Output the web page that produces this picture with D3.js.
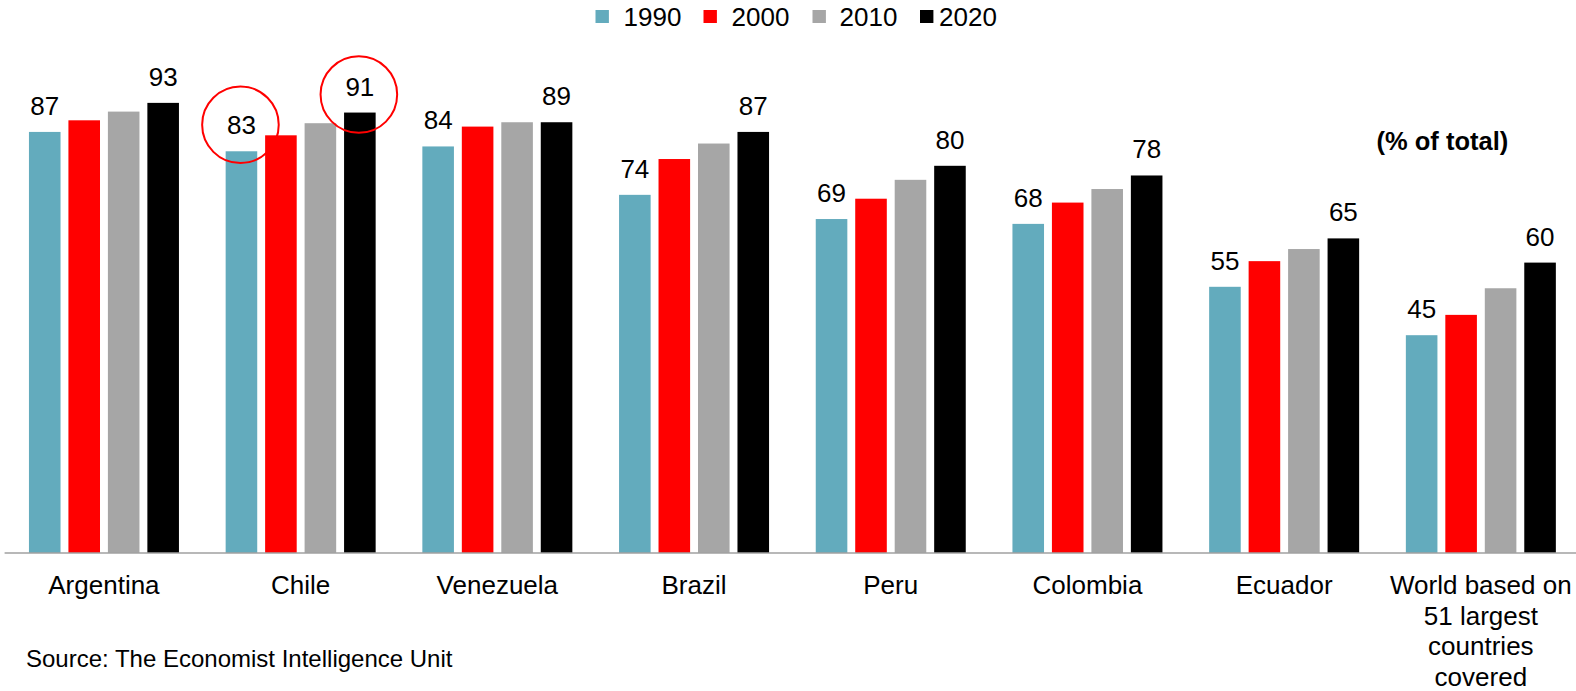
<!DOCTYPE html>
<html>
<head>
<meta charset="utf-8">
<script src="https://cdn.jsdelivr.net/npm/d3@7"></script>
<style>
  html, body { margin: 0; padding: 0; background: #fff; }
  svg { display: block; font-family: "Liberation Sans", Arial, sans-serif; }
</style>
</head>
<body>
<svg id="chart" width="1576" height="691"></svg>
<script>
// ---- data ----
const categories = ["Argentina", "Chile", "Venezuela", "Brazil", "Peru", "Colombia", "Ecuador",
  "World based on\n51 largest\ncountries\ncovered"];
const seriesNames = ["1990", "2000", "2010", "2020"];
const v1990 = [87, 83, 84, 74, 69, 68, 55, 45];
const v2000 = [89.4, 86.3, 88.1, 81.4, 73.2, 72.4, 60.3, 49.2];
const v2010 = [91.2, 88.8, 89.0, 84.6, 77.1, 75.2, 62.8, 54.7];
const v2020 = [93, 91, 89, 87, 80, 78, 65, 60];
const labelledSeries = ["1990", "2020"];
const highlighted = [["Chile", "1990"], ["Chile", "2020"]];
const unitNote = "(% of total)";
const sourceNote = "Source: The Economist Intelligence Unit";

const seriesValues = { "1990": v1990, "2000": v2000, "2010": v2010, "2020": v2020 };
const colors = { "1990": "#63abbd", "2000": "#ff0000", "2010": "#a6a6a6", "2020": "#000000" };

const svg = d3.select("#chart");

const baseY = 553;
const y = d3.scaleLinear().domain([0, 100]).range([baseY, baseY - 484]);
const x0 = d3.scaleBand().domain(categories).range([5.6, 1579.2]).paddingInner(0).paddingOuter(0);
const groupW = 150;
const x1 = d3.scaleBand().domain(seriesNames).range([0, groupW]).paddingInner(0.2).paddingOuter(0);
const groupLeft = c => x0(c) + (x0.bandwidth() - groupW) / 2;

const rows = [];
categories.forEach((c, i) => seriesNames.forEach(s => rows.push({ c, s, v: seriesValues[s][i] })));

// bars
svg.append("g").selectAll("rect").data(rows).join("rect")
  .attr("x", d => groupLeft(d.c) + x1(d.s))
  .attr("y", d => y(d.v))
  .attr("width", x1.bandwidth())
  .attr("height", d => y(0) - y(d.v))
  .attr("fill", d => colors[d.s]);

// axis line
svg.append("line")
  .attr("x1", 4.6).attr("x2", 1576)
  .attr("y1", baseY).attr("y2", baseY)
  .attr("stroke", "#a0a0a0").attr("stroke-width", 1.6);

// value labels
svg.append("g").selectAll("text")
  .data(rows.filter(d => labelledSeries.includes(d.s)))
  .join("text")
  .attr("x", d => groupLeft(d.c) + x1(d.s) + x1.bandwidth() / 2)
  .attr("y", d => y(d.v) - 17)
  .attr("text-anchor", "middle")
  .attr("font-size", 26)
  .attr("fill", "#000")
  .text(d => d.v);

// highlight circles
const circleOffsets = { "1990": -26.5, "2020": -18 };
svg.append("g").selectAll("circle")
  .data(highlighted.map(([c, s]) => ({ c, s, v: seriesValues[s][categories.indexOf(c)] })))
  .join("circle")
  .attr("cx", d => groupLeft(d.c) + x1(d.s) + x1.bandwidth() / 2 - 1)
  .attr("cy", d => y(d.v) + circleOffsets[d.s])
  .attr("r", 38.3)
  .attr("fill", "none")
  .attr("stroke", "#ff0000")
  .attr("stroke-width", 2);

// category labels
const catG = svg.append("g");
categories.forEach(c => {
  const t = catG.append("text")
    .attr("x", x0(c) + x0.bandwidth() / 2)
    .attr("y", 594)
    .attr("text-anchor", "middle")
    .attr("font-size", 26)
    .attr("fill", "#000");
  c.split("\n").forEach((line, i) => {
    t.append("tspan")
      .attr("x", x0(c) + x0.bandwidth() / 2)
      .attr("dy", i === 0 ? 0 : 30.5)
      .text(line);
  });
});

// legend
const legendX = [595.5, 703.5, 812.5, 920];
const legendTextOff = [28, 28, 27, 19];
const lg = svg.append("g");
seriesNames.forEach((s, i) => {
  lg.append("rect")
    .attr("x", legendX[i]).attr("y", 10)
    .attr("width", 13.4).attr("height", 13)
    .attr("fill", colors[s]);
  lg.append("text")
    .attr("x", legendX[i] + legendTextOff[i]).attr("y", 25.5)
    .attr("font-size", 26)
    .attr("fill", "#000")
    .text(s);
});

// unit note
svg.append("text")
  .attr("x", 1376.5).attr("y", 149.5)
  .attr("font-size", 25.5).attr("font-weight", "bold")
  .attr("fill", "#000")
  .text(unitNote);

// source
svg.append("text")
  .attr("x", 26).attr("y", 667)
  .attr("font-size", 24)
  .attr("fill", "#000")
  .text(sourceNote);
</script>
</body>
</html>
